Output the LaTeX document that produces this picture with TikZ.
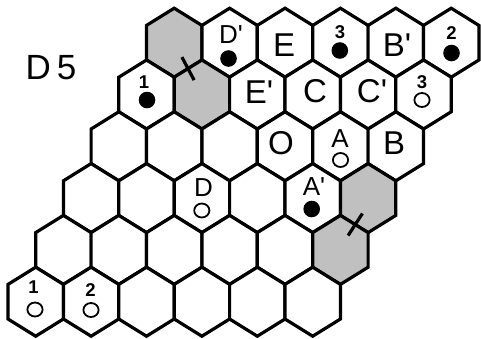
\documentclass[tikz,border=0pt]{standalone}
\usepackage{fontspec}
\setmainfont{Liberation Sans}
\definecolor{cellgray}{RGB}{192,192,192}
\begin{document}
\begin{tikzpicture}[x=1bp,y=-1bp]%
% hex board 6x6, centres in bp, y downwards
\ifx\hexlw\undefined\newdimen\hexlw\fi
\global\def\hexdraw{\draw[line width=\hexlw]}
\global\def\hexstop{;}
\global\def\hexcell#1#2#3{\hexdraw[fill=#3,shift={(#1,#2)}] (-27.7,-17.3)
 --(0,-34.5)
 --(27.7,-17.3)
 --(27.7,17.3)
 --(0,34.5)
 --(-27.7,17.3)
 --cycle\hexstop}
\global\def\bigfont{\fontsize{33bp}{38bp}\selectfont}
\global\def\midfont{\fontsize{26bp}{30bp}\selectfont}
\global\def\numfont{\fontsize{18.5bp}{21bp}\selectfont\bfseries}
\global\def\pr{\textquotesingle}
\hexlw=3.2bp
\useasboundingbox (0,0) rectangle (481,338);
% row 1
\hexcell{174.2}{42.7}{cellgray}
\hexcell{229.6}{42.7}{white}
\hexcell{285.0}{42.7}{white}
\hexcell{340.4}{42.7}{white}
\hexcell{395.8}{42.7}{white}
\hexcell{451.2}{42.7}{white}
% row 2
\hexcell{146.5}{94.5}{white}
\hexcell{201.9}{94.5}{cellgray}
\hexcell{257.3}{94.5}{white}
\hexcell{312.7}{94.5}{white}
\hexcell{368.1}{94.5}{white}
\hexcell{423.5}{94.5}{white}
% row 3
\hexcell{118.8}{146.3}{white}
\hexcell{174.2}{146.3}{white}
\hexcell{229.6}{146.3}{white}
\hexcell{285.0}{146.3}{white}
\hexcell{340.4}{146.3}{white}
\hexcell{395.8}{146.3}{white}
% row 4
\hexcell{91.1}{198.1}{white}
\hexcell{146.5}{198.1}{white}
\hexcell{201.9}{198.1}{white}
\hexcell{257.3}{198.1}{white}
\hexcell{312.7}{198.1}{white}
\hexcell{368.1}{198.1}{cellgray}
% row 5
\hexcell{63.4}{249.9}{white}
\hexcell{118.8}{249.9}{white}
\hexcell{174.2}{249.9}{white}
\hexcell{229.6}{249.9}{white}
\hexcell{285.0}{249.9}{white}
\hexcell{340.4}{249.9}{cellgray}
% row 6
\hexcell{35.7}{301.7}{white}
\hexcell{91.1}{301.7}{white}
\hexcell{146.5}{301.7}{white}
\hexcell{201.9}{301.7}{white}
\hexcell{257.3}{301.7}{white}
\hexcell{312.7}{301.7}{white}
% ticks across the grey pairs
\hexdraw (181.9,57.1)
 --(194.1,80.1)\hexstop
\hexdraw (348.1,235.5)
 --(362.4,213.5)\hexstop
% black stones
\fill (228.5,58.5) circle (8.3bp);
\fill (339.8,50.5) circle (8.3bp);
\fill (451.5,53.0) circle (8.3bp);
\fill (147.0,100.0) circle (8.3bp);
\fill (311.7,209.0) circle (8.3bp);
% white stones
\draw[line width=1.8bp] (422.0,100.0) ellipse [x radius=7.6bp, y radius=7bp];
\draw[line width=1.8bp] (340.5,160.0) ellipse [x radius=7.6bp, y radius=7bp];
\draw[line width=1.8bp] (201.8,210.5) ellipse [x radius=7.6bp, y radius=7bp];
\draw[line width=1.8bp] (35.0,309.5) ellipse [x radius=7.6bp, y radius=7bp];
\draw[line width=1.8bp] (91.0,310.0) ellipse [x radius=7.6bp, y radius=7bp];
% labels
\node[inner sep=0] (title) at (51,67.5) {\fontsize{35bp}{40bp}\selectfont D\,5};
\node[inner sep=0] (Dp) at (231,34.5) {\midfont D\pr};
\node[inner sep=0] (E) at (284,45) {\bigfont E};
\node[inner sep=0] (n3a) at (340,32.5) {\numfont 3};
\node[inner sep=0] (Bp) at (397,45) {\bigfont B\pr};
\node[inner sep=0] (n2a) at (451.5,33.3) {\numfont 2};
\node[inner sep=0] (n1a) at (144,81.7) {\numfont 1};
\node[inner sep=0] (Ep) at (259,92) {\bigfont E\pr};
\node[inner sep=0] (C) at (315,91) {\bigfont C};
\node[inner sep=0] (Cp) at (372,91) {\bigfont C\pr};
\node[inner sep=0] (n3b) at (422,82.5) {\numfont 3};
\node[inner sep=0] (O) at (281,143) {\bigfont O};
\node[inner sep=0] (A) at (340,139) {\midfont A};
\node[inner sep=0] (B) at (394,143) {\bigfont B};
\node[inner sep=0] (D) at (203.5,187.5) {\midfont D};
\node[inner sep=0] (Ap) at (314,187) {\midfont A\pr};
\node[inner sep=0] (n1b) at (33.5,287.5) {\numfont 1};
\node[inner sep=0] (n2b) at (90.5,290) {\numfont 2};
\end{tikzpicture}
\end{document}
